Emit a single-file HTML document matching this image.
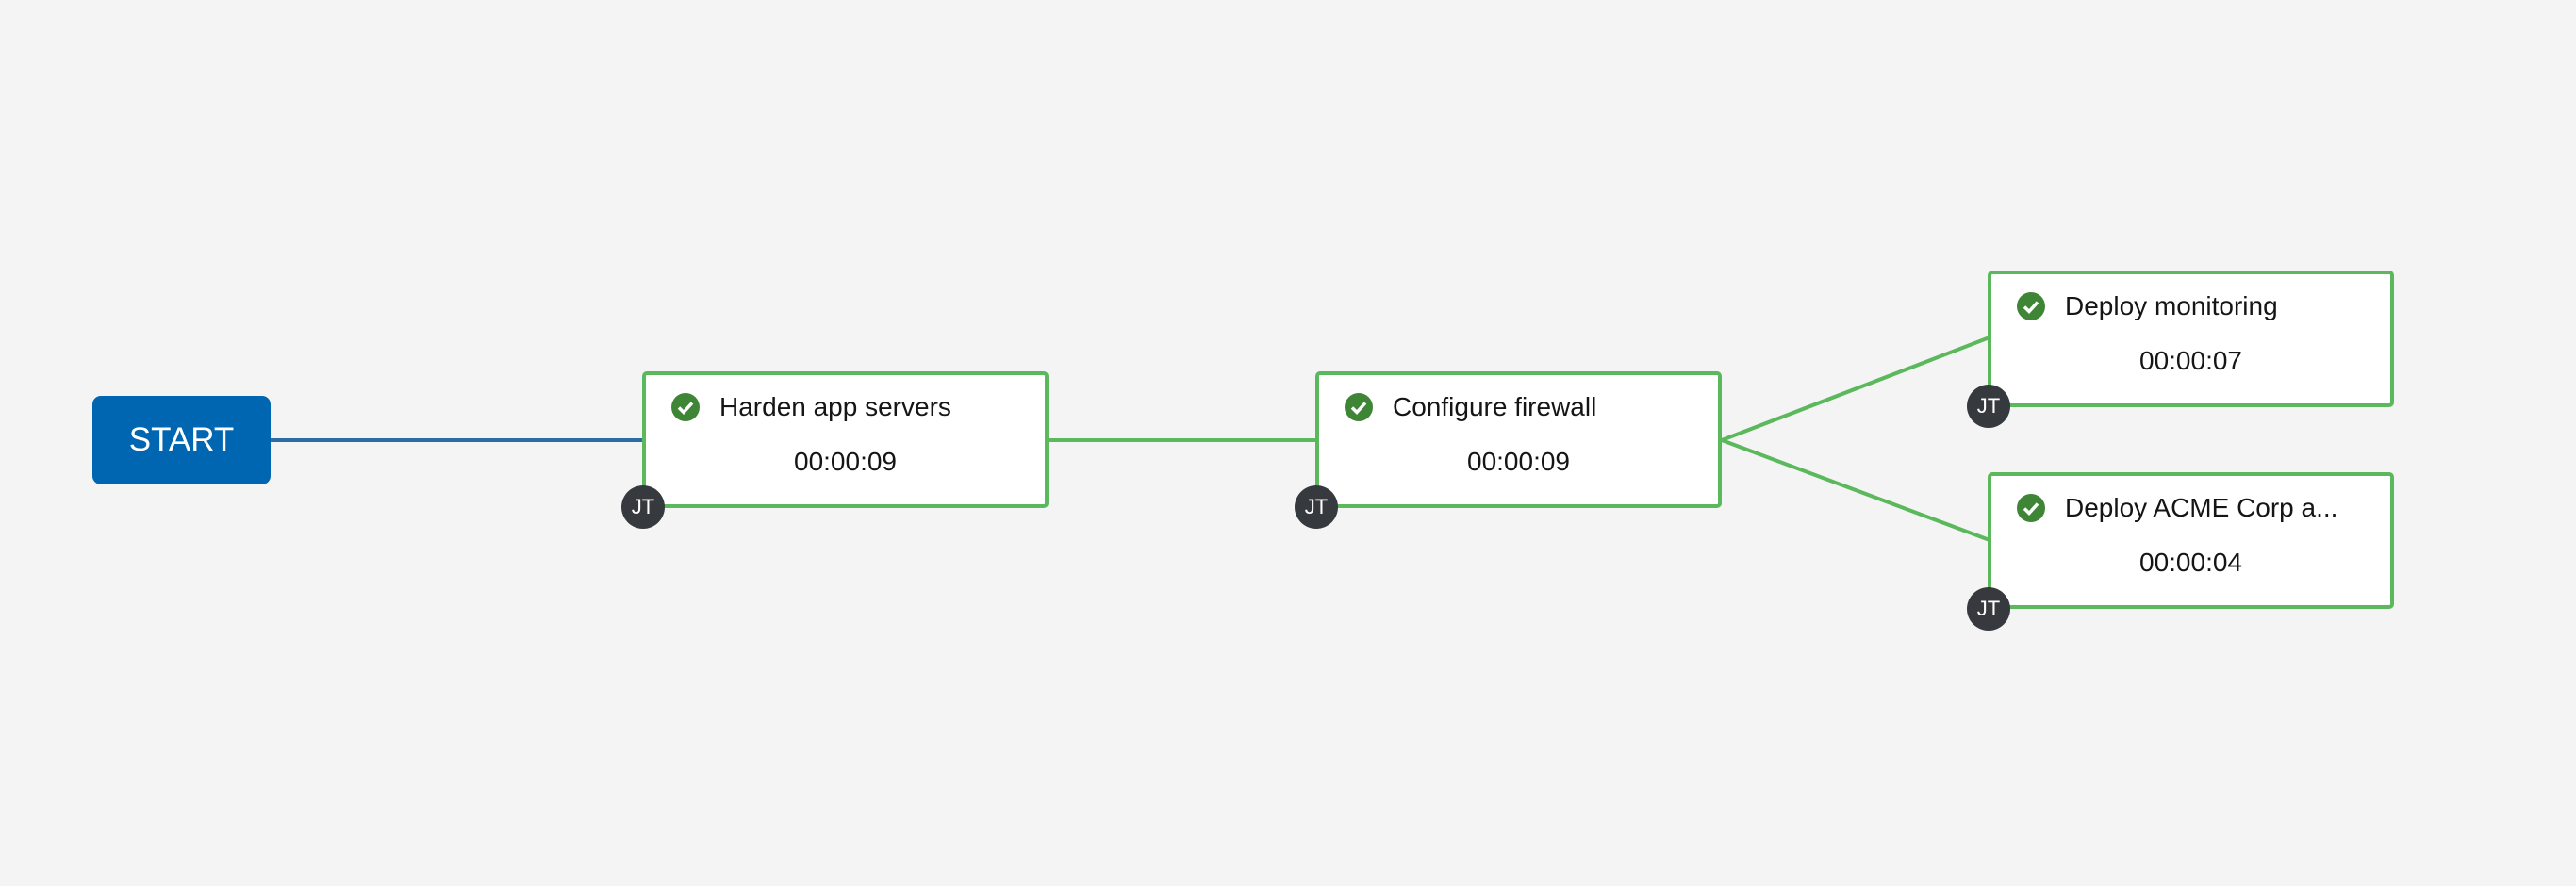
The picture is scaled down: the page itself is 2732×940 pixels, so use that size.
<!DOCTYPE html>
<html><head><meta charset="utf-8"><style>
html,body{margin:0;padding:0;}
body{width:2732px;height:940px;background:#f4f4f4;position:relative;overflow:hidden;font-family:"Liberation Sans",sans-serif;}
svg{position:absolute;left:0;top:0;}
.start{position:absolute;left:98px;top:420px;width:189px;height:94px;background:#0066b1;border-radius:9px;color:#fff;font-size:35px;line-height:94px;text-align:center;}
.node{position:absolute;width:431px;height:145px;background:#fff;border:4px solid #5cb85c;border-radius:5px;box-sizing:border-box;}
.node .chk{position:absolute;left:27px;top:19px;width:30px;height:30px;border-radius:50%;background:#3e8635;}
.node .chk svg{position:absolute;left:0;top:0;}
.node .t{position:absolute;left:78px;top:18px;font-size:28px;color:#151515;white-space:nowrap;}
.node .d{position:absolute;left:0;right:0;top:76px;text-align:center;font-size:28px;color:#151515;}
.jt{position:absolute;width:46px;height:46px;border-radius:50%;background:#363a3e;color:#fff;font-size:22px;line-height:46px;text-align:center;}
</style></head><body>
<svg width="2732" height="940">
<line x1="287" y1="467" x2="683" y2="467" stroke="#2a6ea5" stroke-width="4"/>
<line x1="1110" y1="467" x2="1398" y2="467" stroke="#5cb85c" stroke-width="4"/>
<line x1="1826" y1="467" x2="2110" y2="358" stroke="#5cb85c" stroke-width="4"/>
<line x1="1826" y1="467" x2="2110" y2="573" stroke="#5cb85c" stroke-width="4"/>
</svg>
<div class="start">START</div>

<div class="node" style="left:681px;top:394px;">
<div class="chk"><svg width="30" height="30"><path d="M8 15.5 L13 20.5 L22 10.5" stroke="#fff" stroke-width="3.5" fill="none"/></svg></div>
<div class="t">Harden app servers</div><div class="d">00:00:09</div></div>
<div class="jt" style="left:659px;top:515px;">JT</div>

<div class="node" style="left:1395px;top:394px;">
<div class="chk"><svg width="30" height="30"><path d="M8 15.5 L13 20.5 L22 10.5" stroke="#fff" stroke-width="3.5" fill="none"/></svg></div>
<div class="t">Configure firewall</div><div class="d">00:00:09</div></div>
<div class="jt" style="left:1373px;top:515px;">JT</div>

<div class="node" style="left:2108px;top:287px;">
<div class="chk"><svg width="30" height="30"><path d="M8 15.5 L13 20.5 L22 10.5" stroke="#fff" stroke-width="3.5" fill="none"/></svg></div>
<div class="t">Deploy monitoring</div><div class="d">00:00:07</div></div>
<div class="jt" style="left:2086px;top:408px;">JT</div>

<div class="node" style="left:2108px;top:501px;">
<div class="chk"><svg width="30" height="30"><path d="M8 15.5 L13 20.5 L22 10.5" stroke="#fff" stroke-width="3.5" fill="none"/></svg></div>
<div class="t">Deploy ACME Corp a...</div><div class="d">00:00:04</div></div>
<div class="jt" style="left:2086px;top:623px;">JT</div>
</body></html>
